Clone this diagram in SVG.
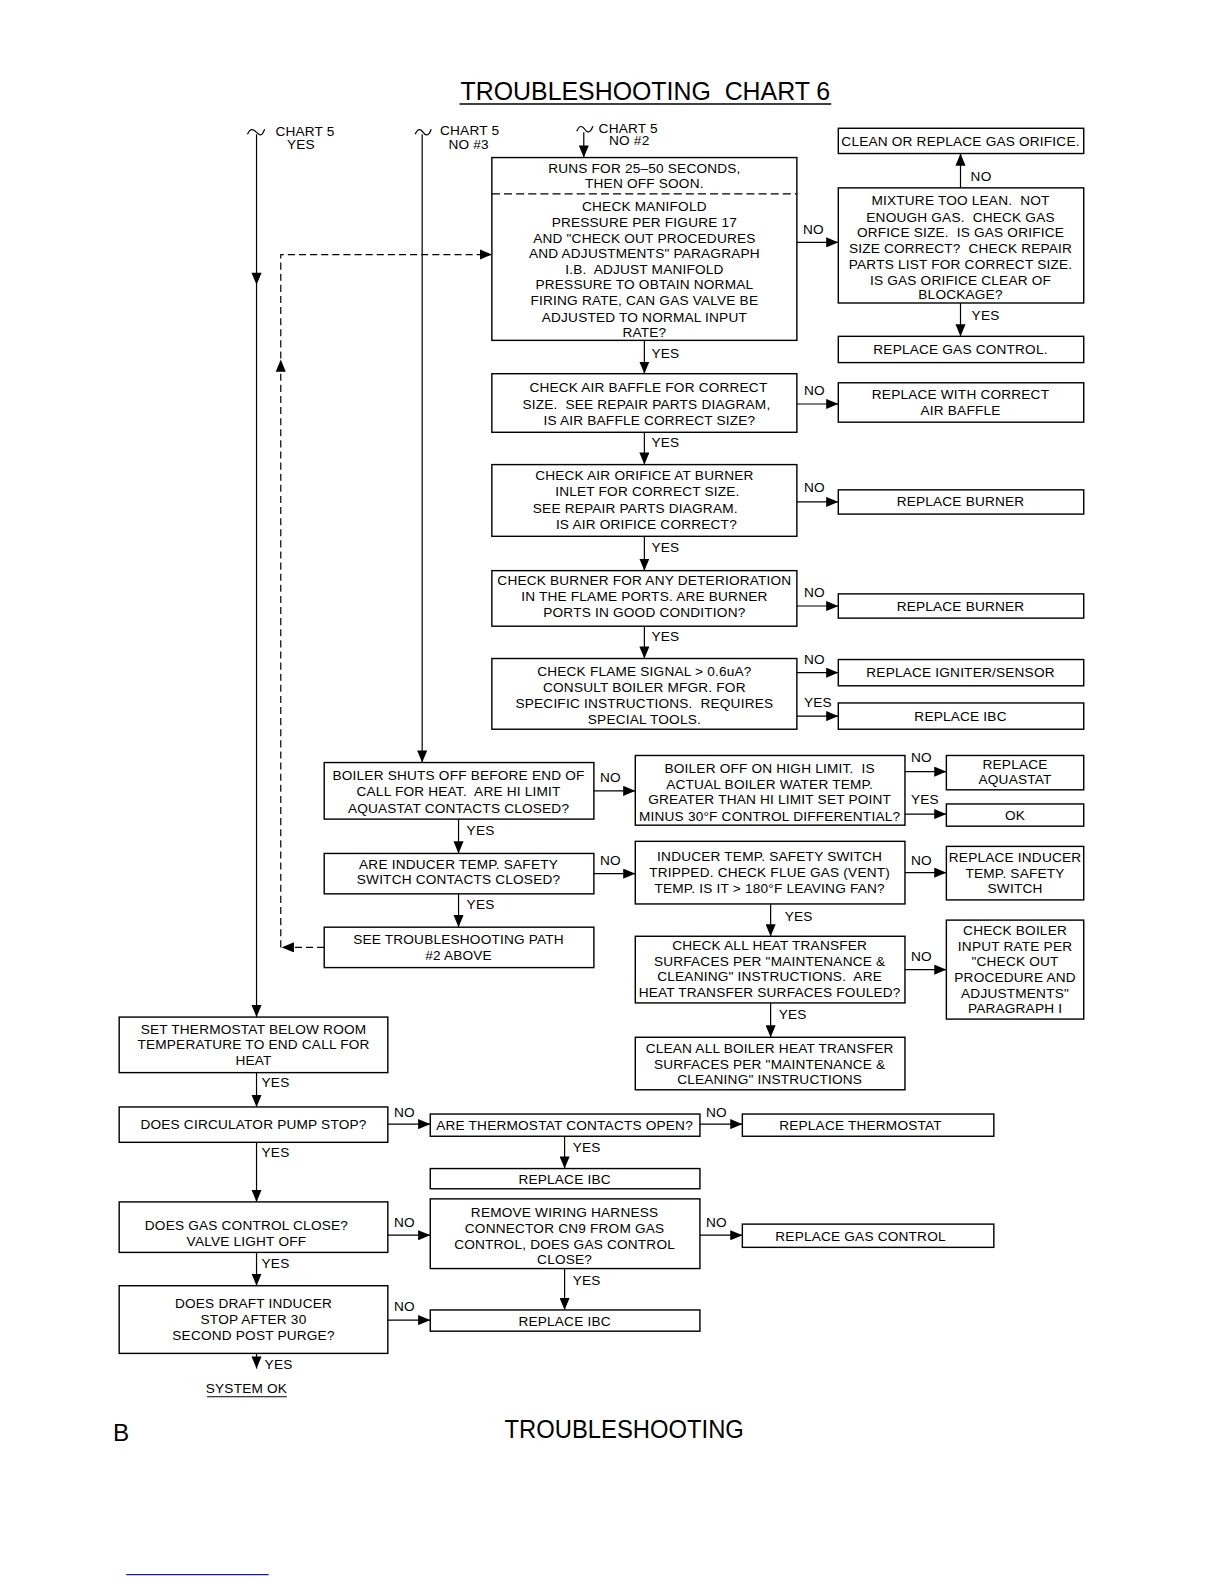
<svg xmlns="http://www.w3.org/2000/svg" width="1224" height="1584" viewBox="0 0 1224 1584" xml:space="preserve">
<style>
.b{fill:#fff;stroke:#000;stroke-width:1.4}
.t{font-family:"Liberation Sans",Arial,sans-serif;font-size:13.5px;letter-spacing:0.2px;fill:#000;text-anchor:middle;dominant-baseline:central;white-space:pre}
.l{text-anchor:start}
.c{stroke:#000;stroke-width:1.2;fill:none}
.d{stroke-dasharray:7 4}
.h{fill:#000;stroke:none}
.big{font-family:"Liberation Sans",Arial,sans-serif;font-size:26px;fill:#000;text-anchor:middle;dominant-baseline:central;white-space:pre}
</style>
<defs>
<marker id="ah" viewBox="0 0 12 10" refX="12" refY="5" markerWidth="12" markerHeight="10" markerUnits="userSpaceOnUse" orient="auto"><path d="M0,0 L12,5 L0,10 z" fill="#000"/></marker>
</defs>
<rect width="1224" height="1584" fill="#fff"/>
<g transform="scale(1.01)">
<g id="title">
<text class="big" x="639" y="90" textLength="366" lengthAdjust="spacingAndGlyphs">TROUBLESHOOTING  CHART 6</text>
<line x1="455" y1="103" x2="823" y2="103" stroke="#000" stroke-width="1.4"/>
</g>
<g id="nA">
<rect class="b" x="487" y="156" width="302" height="181"/>
<line x1="487" y1="192" x2="789" y2="192" stroke="#000" stroke-width="1.2" stroke-dasharray="8 4"/>
<text class="t" x="638" y="167">RUNS FOR 25–50 SECONDS,</text>
<text class="t" x="638" y="182">THEN OFF SOON.</text>
<text class="t" x="638" y="204">CHECK MANIFOLD</text>
<text class="t" x="638" y="220">PRESSURE PER FIGURE 17</text>
<text class="t" x="638" y="236">AND &quot;CHECK OUT PROCEDURES</text>
<text class="t" x="638" y="251">AND ADJUSTMENTS&quot; PARAGRAPH</text>
<text class="t" x="638" y="267">I.B.  ADJUST MANIFOLD</text>
<text class="t" x="638" y="282">PRESSURE TO OBTAIN NORMAL</text>
<text class="t" x="638" y="298">FIRING RATE, CAN GAS VALVE BE</text>
<text class="t" x="638" y="314">ADJUSTED TO NORMAL INPUT</text>
<text class="t" x="638" y="329">RATE?</text>
</g>
<g id="nClean">
<rect class="b" x="830" y="127" width="243" height="25"/>
<text class="t" x="951" y="140">CLEAN OR REPLACE GAS ORIFICE.</text>
</g>
<g id="nB">
<rect class="b" x="830" y="186" width="243" height="114"/>
<text class="t" x="951" y="199">MIXTURE TOO LEAN.  NOT</text>
<text class="t" x="951" y="215">ENOUGH GAS.  CHECK GAS</text>
<text class="t" x="951" y="230">ORFICE SIZE.  IS GAS ORIFICE</text>
<text class="t" x="951" y="246">SIZE CORRECT?  CHECK REPAIR</text>
<text class="t" x="951" y="262">PARTS LIST FOR CORRECT SIZE.</text>
<text class="t" x="951" y="278">IS GAS ORIFICE CLEAR OF</text>
<text class="t" x="951" y="292">BLOCKAGE?</text>
</g>
<g id="nRGC">
<rect class="b" x="830" y="333" width="243" height="26"/>
<text class="t" x="951" y="346">REPLACE GAS CONTROL.</text>
</g>
<g id="nC">
<rect class="b" x="487" y="370" width="302" height="58"/>
<text class="t" x="642" y="384">CHECK AIR BAFFLE FOR CORRECT</text>
<text class="t" x="640" y="400">SIZE.  SEE REPAIR PARTS DIAGRAM,</text>
<text class="t" x="643" y="416">IS AIR BAFFLE CORRECT SIZE?</text>
</g>
<g id="nD">
<rect class="b" x="830" y="379" width="243" height="39"/>
<text class="t" x="951" y="391">REPLACE WITH CORRECT</text>
<text class="t" x="951" y="406">AIR BAFFLE</text>
</g>
<g id="nE">
<rect class="b" x="487" y="460" width="302" height="71"/>
<text class="t" x="638" y="471">CHECK AIR ORIFICE AT BURNER</text>
<text class="t" x="641" y="487">INLET FOR CORRECT SIZE.</text>
<text class="t" x="629" y="503">SEE REPAIR PARTS DIAGRAM.</text>
<text class="t" x="640" y="519">IS AIR ORIFICE CORRECT?</text>
</g>
<g id="nRB1">
<rect class="b" x="830" y="485" width="243" height="24"/>
<text class="t" x="951" y="497">REPLACE BURNER</text>
</g>
<g id="nF">
<rect class="b" x="487" y="565" width="302" height="55"/>
<text class="t" x="638" y="575">CHECK BURNER FOR ANY DETERIORATION</text>
<text class="t" x="638" y="591">IN THE FLAME PORTS. ARE BURNER</text>
<text class="t" x="638" y="606">PORTS IN GOOD CONDITION?</text>
</g>
<g id="nRB2">
<rect class="b" x="830" y="588" width="243" height="24"/>
<text class="t" x="951" y="600">REPLACE BURNER</text>
</g>
<g id="nG">
<rect class="b" x="487" y="652" width="302" height="70"/>
<text class="t" x="638" y="665">CHECK FLAME SIGNAL &gt; 0.6uA?</text>
<text class="t" x="638" y="681">CONSULT BOILER MFGR. FOR</text>
<text class="t" x="638" y="697">SPECIFIC INSTRUCTIONS.  REQUIRES</text>
<text class="t" x="638" y="712">SPECIAL TOOLS.</text>
</g>
<g id="nRIS">
<rect class="b" x="830" y="653" width="243" height="26"/>
<text class="t" x="951" y="666">REPLACE IGNITER/SENSOR</text>
</g>
<g id="nRIBC1">
<rect class="b" x="830" y="696" width="243" height="26"/>
<text class="t" x="951" y="709">REPLACE IBC</text>
</g>
<g id="nH">
<rect class="b" x="321" y="755" width="267" height="56"/>
<text class="t" x="454" y="768">BOILER SHUTS OFF BEFORE END OF</text>
<text class="t" x="454" y="784">CALL FOR HEAT.  ARE HI LIMIT</text>
<text class="t" x="454" y="800">AQUASTAT CONTACTS CLOSED?</text>
</g>
<g id="nI">
<rect class="b" x="629" y="748" width="267" height="69"/>
<text class="t" x="762" y="761">BOILER OFF ON HIGH LIMIT.  IS</text>
<text class="t" x="762" y="777">ACTUAL BOILER WATER TEMP.</text>
<text class="t" x="762" y="792">GREATER THAN HI LIMIT SET POINT</text>
<text class="t" x="762" y="808">MINUS 30°F CONTROL DIFFERENTIAL?</text>
</g>
<g id="nAQ">
<rect class="b" x="937" y="748" width="136" height="34"/>
<text class="t" x="1005" y="757">REPLACE</text>
<text class="t" x="1005" y="772">AQUASTAT</text>
</g>
<g id="nOK">
<rect class="b" x="937" y="796" width="136" height="22"/>
<text class="t" x="1005" y="807">OK</text>
</g>
<g id="nJ">
<rect class="b" x="321" y="845" width="267" height="40"/>
<text class="t" x="454" y="856">ARE INDUCER TEMP. SAFETY</text>
<text class="t" x="454" y="871">SWITCH CONTACTS CLOSED?</text>
</g>
<g id="nK">
<rect class="b" x="629" y="833" width="267" height="62"/>
<text class="t" x="762" y="848">INDUCER TEMP. SAFETY SWITCH</text>
<text class="t" x="762" y="864">TRIPPED. CHECK FLUE GAS (VENT)</text>
<text class="t" x="762" y="880">TEMP. IS IT &gt; 180°F LEAVING FAN?</text>
</g>
<g id="nL">
<rect class="b" x="937" y="838" width="136" height="53"/>
<text class="t" x="1005" y="849">REPLACE INDUCER</text>
<text class="t" x="1005" y="865">TEMP. SAFETY</text>
<text class="t" x="1005" y="880">SWITCH</text>
</g>
<g id="nM">
<rect class="b" x="321" y="918" width="267" height="40"/>
<text class="t" x="454" y="930">SEE TROUBLESHOOTING PATH</text>
<text class="t" x="454" y="946">#2 ABOVE</text>
</g>
<g id="nN">
<rect class="b" x="629" y="927" width="267" height="66"/>
<text class="t" x="762" y="936">CHECK ALL HEAT TRANSFER</text>
<text class="t" x="762" y="952">SURFACES PER &quot;MAINTENANCE &amp;</text>
<text class="t" x="762" y="967">CLEANING&quot; INSTRUCTIONS.  ARE</text>
<text class="t" x="762" y="983">HEAT TRANSFER SURFACES FOULED?</text>
</g>
<g id="nO">
<rect class="b" x="937" y="911" width="136" height="98"/>
<text class="t" x="1005" y="921">CHECK BOILER</text>
<text class="t" x="1005" y="937">INPUT RATE PER</text>
<text class="t" x="1005" y="952">&quot;CHECK OUT</text>
<text class="t" x="1005" y="968">PROCEDURE AND</text>
<text class="t" x="1005" y="984">ADJUSTMENTS&quot;</text>
<text class="t" x="1005" y="999">PARAGRAPH I</text>
</g>
<g id="nP">
<rect class="b" x="629" y="1027" width="267" height="52"/>
<text class="t" x="762" y="1038">CLEAN ALL BOILER HEAT TRANSFER</text>
<text class="t" x="762" y="1054">SURFACES PER &quot;MAINTENANCE &amp;</text>
<text class="t" x="762" y="1069">CLEANING&quot; INSTRUCTIONS</text>
</g>
<g id="nQ">
<rect class="b" x="118" y="1007" width="266" height="55"/>
<text class="t" x="251" y="1019">SET THERMOSTAT BELOW ROOM</text>
<text class="t" x="251" y="1034">TEMPERATURE TO END CALL FOR</text>
<text class="t" x="251" y="1050">HEAT</text>
</g>
<g id="nR">
<rect class="b" x="118" y="1096" width="266" height="35"/>
<text class="t" x="251" y="1113">DOES CIRCULATOR PUMP STOP?</text>
</g>
<g id="nS">
<rect class="b" x="426" y="1103" width="267" height="22"/>
<text class="t" x="559" y="1114">ARE THERMOSTAT CONTACTS OPEN?</text>
</g>
<g id="nT">
<rect class="b" x="735" y="1103" width="249" height="22"/>
<text class="t" x="852" y="1114">REPLACE THERMOSTAT</text>
</g>
<g id="nU">
<rect class="b" x="426" y="1157" width="267" height="20"/>
<text class="t" x="559" y="1168">REPLACE IBC</text>
</g>
<g id="nV">
<rect class="b" x="118" y="1190" width="266" height="50"/>
<text class="t" x="244" y="1213">DOES GAS CONTROL CLOSE?</text>
<text class="t" x="244" y="1229">VALVE LIGHT OFF</text>
</g>
<g id="nW">
<rect class="b" x="426" y="1187" width="267" height="69"/>
<text class="t" x="559" y="1200">REMOVE WIRING HARNESS</text>
<text class="t" x="559" y="1216">CONNECTOR CN9 FROM GAS</text>
<text class="t" x="559" y="1232">CONTROL, DOES GAS CONTROL</text>
<text class="t" x="559" y="1247">CLOSE?</text>
</g>
<g id="nX">
<rect class="b" x="735" y="1212" width="249" height="23"/>
<text class="t" x="852" y="1224">REPLACE GAS CONTROL</text>
</g>
<g id="nY">
<rect class="b" x="426" y="1297" width="267" height="21"/>
<text class="t" x="559" y="1308">REPLACE IBC</text>
</g>
<g id="nZ">
<rect class="b" x="118" y="1273" width="266" height="67"/>
<text class="t" x="251" y="1291">DOES DRAFT INDUCER</text>
<text class="t" x="251" y="1306">STOP AFTER 30</text>
<text class="t" x="251" y="1322">SECOND POST PURGE?</text>
</g>
<g id="nEnd">
<text class="t" x="244" y="1375">SYSTEM OK</text>
<line x1="205" y1="1383" x2="284" y2="1383" stroke="#000" stroke-width="1"/>
</g>
<g id="starts">
<path class="c" d="M245,133 C248,126 251,128 254,131 S259,136 262,128"/>
<text class="t" x="302" y="130">CHART 5</text>
<text class="t" x="298" y="143">YES</text>
<path class="c" d="M411,133 C414,126 417,128 419,131 S424,136 427,128"/>
<text class="t" x="465" y="129">CHART 5</text>
<text class="t" x="464" y="143">NO #3</text>
<path class="c" d="M571,130 C574,123 577,125 579,128 S584,133 587,125"/>
<text class="t" x="622" y="127">CHART 5</text>
<text class="t" x="623" y="139">NO #2</text>
</g>
<g id="connectors">
<path class="c" d="M254,133 V1007" marker-end="url(#ah)"/>
<path class="h" d="M249,270 L259,270 L254,282 z"/>
<path class="c" d="M418,133 V755" marker-end="url(#ah)"/>
<path class="c" d="M578,131 V156" marker-end="url(#ah)"/>
<path class="c d" d="M321,938 H279" marker-end="url(#ah)"/>
<path class="c d" d="M278,938 V252 H487" marker-end="url(#ah)"/>
<path class="h" d="M273,368 L283,368 L278,356 z"/>
<path class="c" d="M789,240 H830" marker-end="url(#ah)"/>
<path class="c" d="M951,186 V152" marker-end="url(#ah)"/>
<path class="c" d="M951,300 V333" marker-end="url(#ah)"/>
<path class="c" d="M638,337 V370" marker-end="url(#ah)"/>
<path class="c" d="M789,400 H830" marker-end="url(#ah)"/>
<path class="c" d="M638,428 V460" marker-end="url(#ah)"/>
<path class="c" d="M789,497 H830" marker-end="url(#ah)"/>
<path class="c" d="M638,531 V565" marker-end="url(#ah)"/>
<path class="c" d="M789,600 H830" marker-end="url(#ah)"/>
<path class="c" d="M638,620 V652" marker-end="url(#ah)"/>
<path class="c" d="M789,666 H830" marker-end="url(#ah)"/>
<path class="c" d="M789,709 H830" marker-end="url(#ah)"/>
<path class="c" d="M588,783 H629" marker-end="url(#ah)"/>
<path class="c" d="M896,764 H937" marker-end="url(#ah)"/>
<path class="c" d="M896,806 H937" marker-end="url(#ah)"/>
<path class="c" d="M454,811 V845" marker-end="url(#ah)"/>
<path class="c" d="M588,865 H629" marker-end="url(#ah)"/>
<path class="c" d="M896,864 H937" marker-end="url(#ah)"/>
<path class="c" d="M454,885 V918" marker-end="url(#ah)"/>
<path class="c" d="M763,895 V927" marker-end="url(#ah)"/>
<path class="c" d="M896,960 H937" marker-end="url(#ah)"/>
<path class="c" d="M763,993 V1027" marker-end="url(#ah)"/>
<path class="c" d="M254,1062 V1096" marker-end="url(#ah)"/>
<path class="c" d="M384,1113 H426" marker-end="url(#ah)"/>
<path class="c" d="M693,1113 H735" marker-end="url(#ah)"/>
<path class="c" d="M559,1125 V1157" marker-end="url(#ah)"/>
<path class="c" d="M254,1131 V1190" marker-end="url(#ah)"/>
<path class="c" d="M384,1223 H426" marker-end="url(#ah)"/>
<path class="c" d="M693,1223 H735" marker-end="url(#ah)"/>
<path class="c" d="M559,1256 V1297" marker-end="url(#ah)"/>
<path class="c" d="M254,1240 V1273" marker-end="url(#ah)"/>
<path class="c" d="M384,1307 H426" marker-end="url(#ah)"/>
<path class="c" d="M254,1340 V1355" marker-end="url(#ah)"/>
<text class="t l" x="795" y="227">NO</text>
<text class="t l" x="961" y="175">NO</text>
<text class="t l" x="962" y="312">YES</text>
<text class="t l" x="645" y="350">YES</text>
<text class="t l" x="796" y="387">NO</text>
<text class="t l" x="645" y="438">YES</text>
<text class="t l" x="796" y="483">NO</text>
<text class="t l" x="645" y="542">YES</text>
<text class="t l" x="796" y="587">NO</text>
<text class="t l" x="645" y="630">YES</text>
<text class="t l" x="796" y="653">NO</text>
<text class="t l" x="796" y="696">YES</text>
<text class="t l" x="594" y="770">NO</text>
<text class="t l" x="902" y="750">NO</text>
<text class="t l" x="902" y="792">YES</text>
<text class="t l" x="462" y="822">YES</text>
<text class="t l" x="594" y="852">NO</text>
<text class="t l" x="902" y="852">NO</text>
<text class="t l" x="462" y="896">YES</text>
<text class="t l" x="777" y="907">YES</text>
<text class="t l" x="902" y="947">NO</text>
<text class="t l" x="771" y="1004">YES</text>
<text class="t l" x="259" y="1072">YES</text>
<text class="t l" x="390" y="1101">NO</text>
<text class="t l" x="699" y="1101">NO</text>
<text class="t l" x="567" y="1136">YES</text>
<text class="t l" x="259" y="1141">YES</text>
<text class="t l" x="390" y="1210">NO</text>
<text class="t l" x="699" y="1210">NO</text>
<text class="t l" x="567" y="1268">YES</text>
<text class="t l" x="259" y="1251">YES</text>
<text class="t l" x="390" y="1294">NO</text>
<text class="t l" x="262" y="1351">YES</text>
</g>
<g id="footer">
<text class="big" x="112" y="1418" style="text-anchor:start;font-size:24px">B</text>
<text class="big" x="618" y="1415" textLength="237" lengthAdjust="spacingAndGlyphs">TROUBLESHOOTING</text>
<line x1="125" y1="1559" x2="266" y2="1559" stroke="#1d1d9a" stroke-width="1.2"/>
</g>
</g>
</svg>
